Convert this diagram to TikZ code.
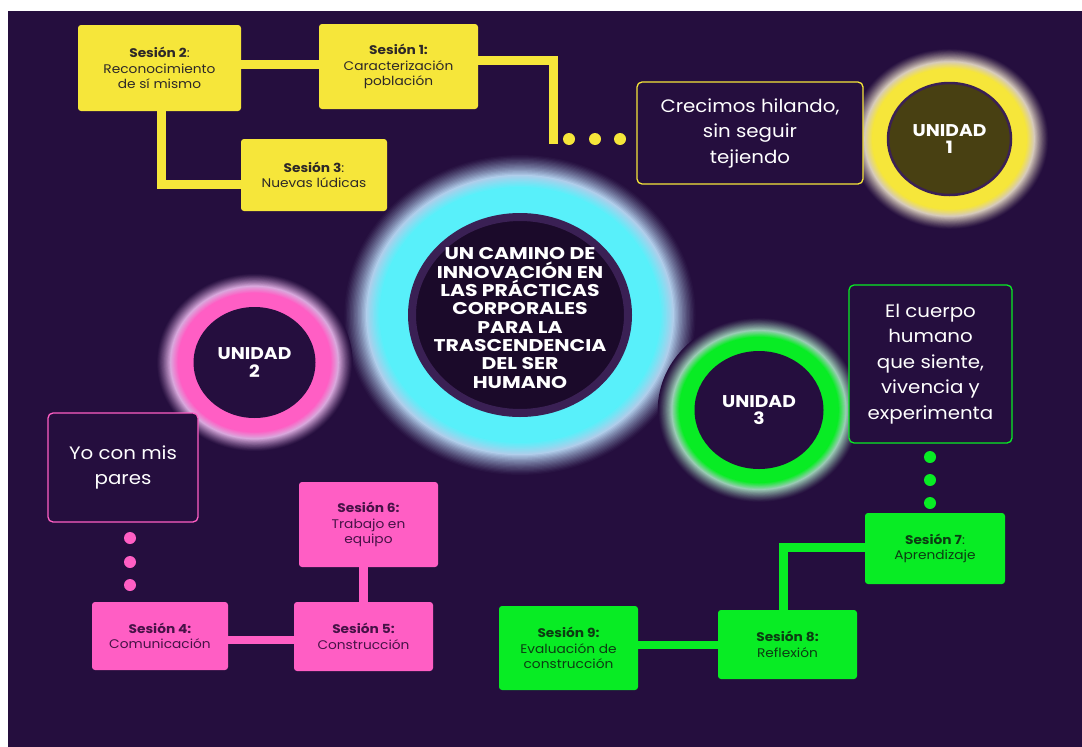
\documentclass[tikz,border=0pt]{standalone}
\usepackage{fontspec}
\setmainfont{Poppins}[FakeStretch=1.1]
\newfontfamily\titlefont{Poppins}[FakeStretch=1.2]
\usetikzlibrary{shapes.geometric}
\definecolor{bg}{RGB}{37,14,62}
\definecolor{lav}{RGB}{205,194,230}
\definecolor{ylw}{RGB}{246,230,58}
\definecolor{ytxt}{RGB}{45,40,40}
\definecolor{pnk}{RGB}{255,94,196}
\definecolor{ptxt}{RGB}{70,18,70}
\definecolor{grn}{RGB}{8,236,36}
\definecolor{gtxt}{RGB}{12,60,18}
\definecolor{cyn}{RGB}{88,240,250}
\definecolor{olive}{RGB}{72,64,18}
\definecolor{ring}{RGB}{58,32,84}
\definecolor{core}{RGB}{27,10,42}
\newcommand\glowat[8]{% cx, cy, rx, ry, ratio, colour, A, B
  \colorlet{ghalo}{#6!25!lav}%
  \foreach \i in {0,...,48}{%
    \pgfmathsetmacro\f{#5-(#5-1)*\i/48}%
    \pgfmathsetmacro\rx{#3*\f}%
    \pgfmathsetmacro\ry{#4*\f}%
    \pgfmathtruncatemacro\pa{100*(min(1,\i/#7))^1.2}%
    \pgfmathtruncatemacro\pb{max(0,min(100,(\i-#7)*100/(#8-#7)))}%
    \colorlet{gtmpa}{#6!\pb!ghalo}%
    \colorlet{gtmpb}{gtmpa!\pa!bg}%
    \fill[gtmpb] (#1,#2) ellipse [x radius=\rx pt, y radius=\ry pt];
  }}
\tikzset{
  sbox/.style={rounded corners=3pt, align=center, inner sep=0pt,
    font=\fontsize{12.5}{15.5}\selectfont},
  ybox/.style={sbox, fill=ylw, text=ytxt},
  pbox/.style={sbox, fill=pnk, text=ptxt},
  gbox/.style={sbox, fill=grn, text=gtxt},
  tbox/.style={draw=#1, line width=1.3pt, rounded corners=5pt, fill=bg,
    text=white, align=center, inner sep=0pt, font=\fontsize{18}{25.5}\selectfont},
  conn/.style={draw=#1, line width=9pt},
  bead/.style={circle, fill=#1, inner sep=0pt, minimum size=12pt},
  unit/.style={ellipse, text=white, align=center, inner sep=0pt,
    minimum width=123pt, minimum height=112pt,
    font=\bfseries\fontsize{17}{17.5}\selectfont},
  titletext/.style={text=white, align=center, inner sep=0pt,
    font=\titlefont\bfseries\fontsize{17}{18.3}\selectfont},
}
\begin{document}
\begin{tikzpicture}[x=1pt,y=-1pt]
\useasboundingbox (0,0) rectangle (1082,747);
\fill[white] (0,0) rectangle (1082,747);
\fill[bg] (8,11) rectangle (1082,747);
% glows
\glowat{520}{315}{112}{102}{1.58}{cyn}{17}{27}
\glowat{949.5}{139}{61.5}{56}{1.62}{ylw}{18}{28}
\glowat{254.5}{362.5}{61}{55.5}{1.61}{pnk}{18}{28}
\glowat{759}{410}{64.5}{59}{1.57}{grn}{18}{28}
% central circle
\node[ellipse, draw=ring, line width=8pt, fill=core, minimum width=216pt,
  minimum height=196pt, inner sep=0pt] (core) at (520,315) {};
\node[titletext] (title) at ([yshift=-3pt]core.center)
  {UN CAMINO DE\\INNOVACIÓN EN\\LAS PRÁCTICAS\\CORPORALES\\PARA LA\\TRASCENDENCIA\\DEL SER\\HUMANO};
% units
\node[unit, fill=olive, draw=ring, line width=2.5pt] (u1) at (949.5,139) {UNIDAD\\1};
\node[unit, fill=bg, minimum width=122pt, minimum height=111pt] (u2) at (254.5,362.5) {UNIDAD\\2};
\node[unit, fill=bg, minimum width=129pt, minimum height=118pt] (u3) at (759,410) {UNIDAD\\3};
% unit 1 sessions
\node[ybox, minimum width=163pt, minimum height=86pt] (s2) at (159.5,68)
  {\textbf{Sesión 2}:\\Reconocimiento\\de sí mismo};
\node[ybox, minimum width=159pt, minimum height=85pt] (s1) at (398.5,66.5)
  {\textbf{Sesión 1:}\\Caracterización\\población};
\node[ybox, minimum width=146pt, minimum height=72pt] (s3) at (314,175)
  {\textbf{Sesión 3}:\\Nuevas lúdicas};
\node[tbox=ylw, minimum width=226pt, minimum height=102pt] (t1) at (750,133)
  {Crecimos hilando,\\sin seguir\\tejiendo};
\node[bead=ylw] (yd1) at (569,139) {};
\node[bead=ylw] (yd2) at (595,139) {};
\node[bead=ylw] (yd3) at (620,139) {};
\coordinate (ycorner) at (553,144);
\draw[conn=ylw] ([yshift=4pt]s2.east) -- ([yshift=4pt]s2.east -| s1.west);
\draw[conn=ylw] ([xshift=1.5pt]s2.south) |- ([yshift=-9pt]s3.west);
\draw[conn=ylw] ([yshift=6.5pt]s1.east) -| (ycorner);
% unit 2
\node[tbox=pnk, minimum width=150pt, minimum height=109pt] (t2) at (123,467.5)
  {\raisebox{-3pt}{\parbox{140pt}{\centering Yo con mis\\pares}}};
\node[bead=pnk] (pd1) at (130,538) {};
\node[bead=pnk] (pd2) at (130,562) {};
\node[bead=pnk] (pd3) at (130,585) {};
\node[pbox, minimum width=139pt, minimum height=85pt] (s6) at (368.5,524.5)
  {\textbf{Sesión 6:}\\Trabajo en\\equipo};
\node[pbox, minimum width=136pt, minimum height=68pt] (s4) at (160,636)
  {\textbf{Sesión 4:}\\Comunicación};
\node[pbox, minimum width=139pt, minimum height=69pt] (s5) at (363.5,636.5)
  {\textbf{Sesión 5:}\\Construcción};
\draw[conn=pnk] (s5.north) -- (s5.north |- s6.south);
\draw[conn=pnk, line width=8pt] ([yshift=-4pt]s4.east) -- ([yshift=-4pt]s4.east -| s5.west);
% unit 3
\node[tbox=grn, minimum width=163pt, minimum height=158pt] (t3) at (930.5,364)
  {El cuerpo\\humano\\que siente,\\vivencia y\\experimenta};
\node[bead=grn] (gd1) at (930,457) {};
\node[bead=grn] (gd2) at (930,480) {};
\node[bead=grn] (gd3) at (930,503) {};
\node[gbox, minimum width=140pt, minimum height=71pt] (s7) at (935,548.5)
  {\textbf{Sesión 7}:\\Aprendizaje};
\node[gbox, minimum width=139pt, minimum height=69pt] (s8) at (787.5,644.5)
  {\textbf{Sesión 8:}\\Reflexión};
\node[gbox, minimum width=139pt, minimum height=84pt] (s9) at (568.5,648)
  {\textbf{Sesión 9:}\\Evaluación de\\construcción};
\draw[conn=grn] ([yshift=1.5pt]s7.west) -| ([xshift=-4.5pt]s8.north);
\draw[conn=grn, line width=8pt] (s9.east |- s8.west) -- (s8.west);
\end{tikzpicture}
\end{document}
